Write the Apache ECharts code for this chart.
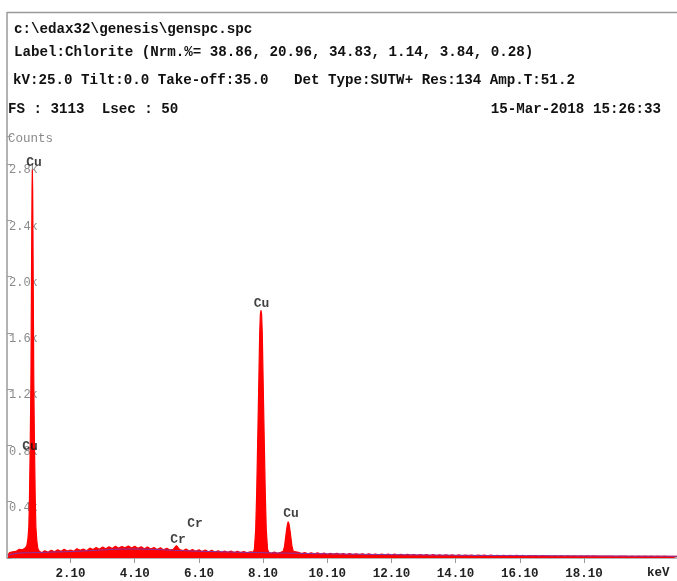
<!DOCTYPE html>
<html>
<head>
<meta charset="utf-8">
<script src="https://cdn.jsdelivr.net/npm/echarts@6/dist/echarts.min.js"></script>
<style>
html,body{margin:0;padding:0;background:#fff;}
#chart{width:677px;height:581px;}
</style>
</head>
<body>
<div id="chart"></div>
<script>
// ---- Header texts ----
var headerLines = [
  'c:\\edax32\\genesis\\genspc.spc',
  'Label:Chlorite (Nrm.%= 38.86, 20.96, 34.83, 1.14, 3.84, 0.28)',
  'kV:25.0 Tilt:0.0 Take-off:35.0   Det Type:SUTW+ Res:134 Amp.T:51.2',
  'FS : 3113  Lsec : 50'
];
var dateText = '15-Mar-2018 15:26:33';

// ---- Axis ticks ----
var xTickValues = [2.1, 4.1, 6.1, 8.1, 10.1, 12.1, 14.1, 16.1, 18.1];
var yTickStep = 400;

// ---- Spectrum (keV, counts) ----
var energy = [
  0.15,0.20,0.25,0.30,0.35,0.40,0.45,0.50,0.55,0.60,0.65,0.70,
  0.74,0.77,0.80,0.82,0.845,0.865,0.875,0.89,0.90,0.91,0.92,0.93,0.945,0.955,0.975,1.00,1.02,1.05,1.08,1.12,
  1.2,1.3,1.4,1.5,1.6,1.7,1.8,1.9,2.0,2.1,2.2,2.3,2.4,2.5,2.6,2.7,2.8,2.9,3.0,
  3.1,3.2,3.3,3.4,3.5,3.6,3.7,3.8,3.9,4.0,4.1,4.2,4.3,4.4,4.5,4.6,4.7,4.8,4.9,5.0,
  5.1,5.2,5.3,5.35,5.40,5.45,5.5,5.6,5.7,5.8,5.9,6.0,6.1,6.2,6.3,6.4,6.5,6.6,6.7,6.8,6.9,7.0,
  7.1,7.2,7.3,7.4,7.5,7.6,7.7,
  7.79,7.83,7.87,7.90,7.93,7.955,7.975,7.995,8.015,8.035,8.055,8.075,8.095,8.115,8.14,8.17,8.20,8.24,8.28,
  8.35,8.45,8.55,8.65,
  8.70,8.73,8.77,8.80,8.83,8.86,8.885,8.91,8.94,8.97,9.00,9.04,9.08,
  9.2,9.3,9.4,9.5,9.6,9.7,9.8,9.9,10.0,10.1,10.2,10.3,10.4,10.5,10.6,10.7,10.8,10.9,11.0,
  11.1,11.2,11.3,11.4,11.5,11.6,11.7,11.8,11.9,12.0,12.1,12.2,12.3,12.4,12.5,12.6,12.7,12.8,12.9,13.0,
  13.1,13.2,13.3,13.4,13.5,13.6,13.7,13.8,13.9,14.0,14.1,14.2,14.3,14.4,14.5,14.6,14.7,14.8,14.9,15.0,
  15.1,15.2,15.3,15.4,15.5,15.6,15.7,15.8,15.9,16.0,16.1,16.2,16.3,16.4,16.5,16.6,16.7,16.8,16.9,17.0,
  17.1,17.2,17.3,17.4,17.5,17.6,17.7,17.8,17.9,18.0,18.1,18.2,18.3,18.4,18.5,18.6,18.7,18.8,18.9,19.0,
  19.1,19.2,19.3,19.4,19.5,19.6,19.7,19.8,19.9,20.0,20.1,20.2,20.3,20.4,20.5,20.6,20.7,20.8,20.9,21.0
];
var counts = [
  20,38,52,44,58,47,55,62,70,58,66,72,
  90,130,220,420,820,1250,1650,2250,2620,2760,2620,2250,1650,1250,820,420,220,120,70,50,
  38,52,41,55,44,58,47,62,50,57,48,66,55,63,52,70,60,74,62,
  78,66,80,68,84,70,82,72,86,71,83,69,80,66,78,64,75,60,72,58,
  69,56,62,75,88,80,60,52,63,50,60,48,58,46,56,44,54,43,52,41,50,40,
  49,39,47,38,46,37,44,
  42,60,200,450,800,1100,1350,1600,1730,1760,1730,1600,1350,1100,800,450,200,60,40,
  34,42,33,40,
  38,48,85,140,195,240,258,240,195,140,85,48,36,
  40,31,38,30,37,29,36,28,35,27,34,27,33,26,32,25,31,25,30,
  24,30,23,29,23,28,22,28,22,27,21,27,21,26,20,26,20,25,19,25,
  19,24,18,24,18,23,17,23,17,22,16,22,16,21,17,21,16,20,17,20,
  16,20,15,19,16,19,15,18,16,18,15,18,14,17,15,17,14,17,15,16,
  14,16,14,16,13,16,14,15,13,15,14,15,13,15,14,14,13,14,13,14,
  12,14,13,14,12,13,12,14,12,13,12,13,11,13,12,13,11,12,12,12
];

// ---- Background fit line (purple) ----
var bgEnergy = [0.15,0.5,1,1.5,2,2.5,3,3.5,4,4.5,5,5.5,6,7,8,9,10,11,12,13,14,15,16,17,18,19,20,21];
var bgCounts = [18,35,38,42,45,50,56,62,64,62,58,53,49,43,38,34,30,27,24,22,20,18,17,16,15,14,13,12];

// ---- Peak labels ----
var peakNames  = ['Cu', 'Cu', 'Cr', 'Cr', 'Cu', 'Cu'];
var peakEnergy = [0.96, 0.84, 5.45, 5.98, 8.05, 8.97];
var peakCounts = [2810, 790, 128, 244, 1810, 315];

var chart = echarts.init(document.getElementById('chart'), null, {renderer: 'canvas'});

var mono = 'Liberation Mono, Courier New, monospace';
var spec = energy.map(function (e, i) { return [e, counts[i]]; });
var bg = bgEnergy.map(function (e, i) { return [e, bgCounts[i]]; });
var labels = peakNames.map(function (n, i) { return {name: n, value: [peakEnergy[i], peakCounts[i]]}; });

var headerY = [30, 53, 81, 110];
var headerX = [14, 14, 13, 8];
var graphics = [
  {type: 'line', shape: {x1: 7, y1: 12.5, x2: 677, y2: 12.5}, style: {stroke: '#9a9a9a', lineWidth: 1.5}, z: 10},
  {type: 'line', shape: {x1: 7, y1: 12, x2: 7, y2: 558}, style: {stroke: '#9a9a9a', lineWidth: 1.5}, z: 10},
  {type: 'text', left: 8, top: 132, style: {text: 'Counts', font: '12.5px ' + mono, fill: '#888'}},
  {type: 'text', left: 647, top: 566, style: {text: 'keV', font: 'bold 12.5px ' + mono, fill: '#222'}},
  {type: 'text', right: 16, top: 110 - 8, style: {text: dateText, font: 'bold 14.2px ' + mono, fill: '#111'}}
];
headerLines.forEach(function (t, i) {
  graphics.push({type: 'text', left: headerX[i], top: headerY[i] - 8,
    style: {text: t, font: 'bold 14.2px ' + mono, fill: '#111'}});
});

chart.setOption({
  backgroundColor: '#fff',
  animation: false,
  grid: {left: 7, right: 0, top: 136, bottom: 23},
  xAxis: {
    type: 'value', min: 0.12, max: 21.0,
    axisLine: {show: true, lineStyle: {color: '#9a9a9a', width: 1.5}},
    axisTick: {show: true, customValues: xTickValues, length: 5, lineStyle: {color: '#9a9a9a'}},
    axisLabel: {show: true, customValues: xTickValues, margin: 9,
      formatter: function (v) { return v.toFixed(2); },
      fontFamily: mono, fontWeight: 'bold', fontSize: 12.5, color: '#222'},
    splitLine: {show: false}
  },
  yAxis: {
    type: 'value', min: 0, max: 3000, interval: yTickStep,
    axisLine: {show: false},
    axisTick: {show: true, inside: true, length: 5, lineStyle: {color: '#9a9a9a'}},
    axisLabel: {show: true, inside: true, margin: 2, verticalAlign: 'top',
      padding: [0, 0, 0, 0],
      formatter: function (v) { return v === 0 || v >= 3000 ? '' : (v / 1000).toFixed(1) + 'k'; },
      fontFamily: mono, fontSize: 12, color: '#8a8a8a'},
    splitLine: {show: false}
  },
  graphic: graphics,
  series: [
    {
      type: 'line', data: spec, showSymbol: false, sampling: 'none',
      lineStyle: {color: '#ff0000', width: 1.2},
      areaStyle: {color: '#ff0000', opacity: 1},
      z: 2
    },
    {
      type: 'line', data: bg, showSymbol: false, smooth: true,
      lineStyle: {color: '#6a40c8', width: 1, opacity: 0.85},
      z: 3
    },
    {
      type: 'scatter', data: labels, symbolSize: 0,
      label: {show: true, position: 'inside', formatter: '{b}',
        fontFamily: mono, fontWeight: 'bold', fontSize: 13, color: '#111'},
      z: 5
    }
  ]
});
</script>
</body>
</html>
